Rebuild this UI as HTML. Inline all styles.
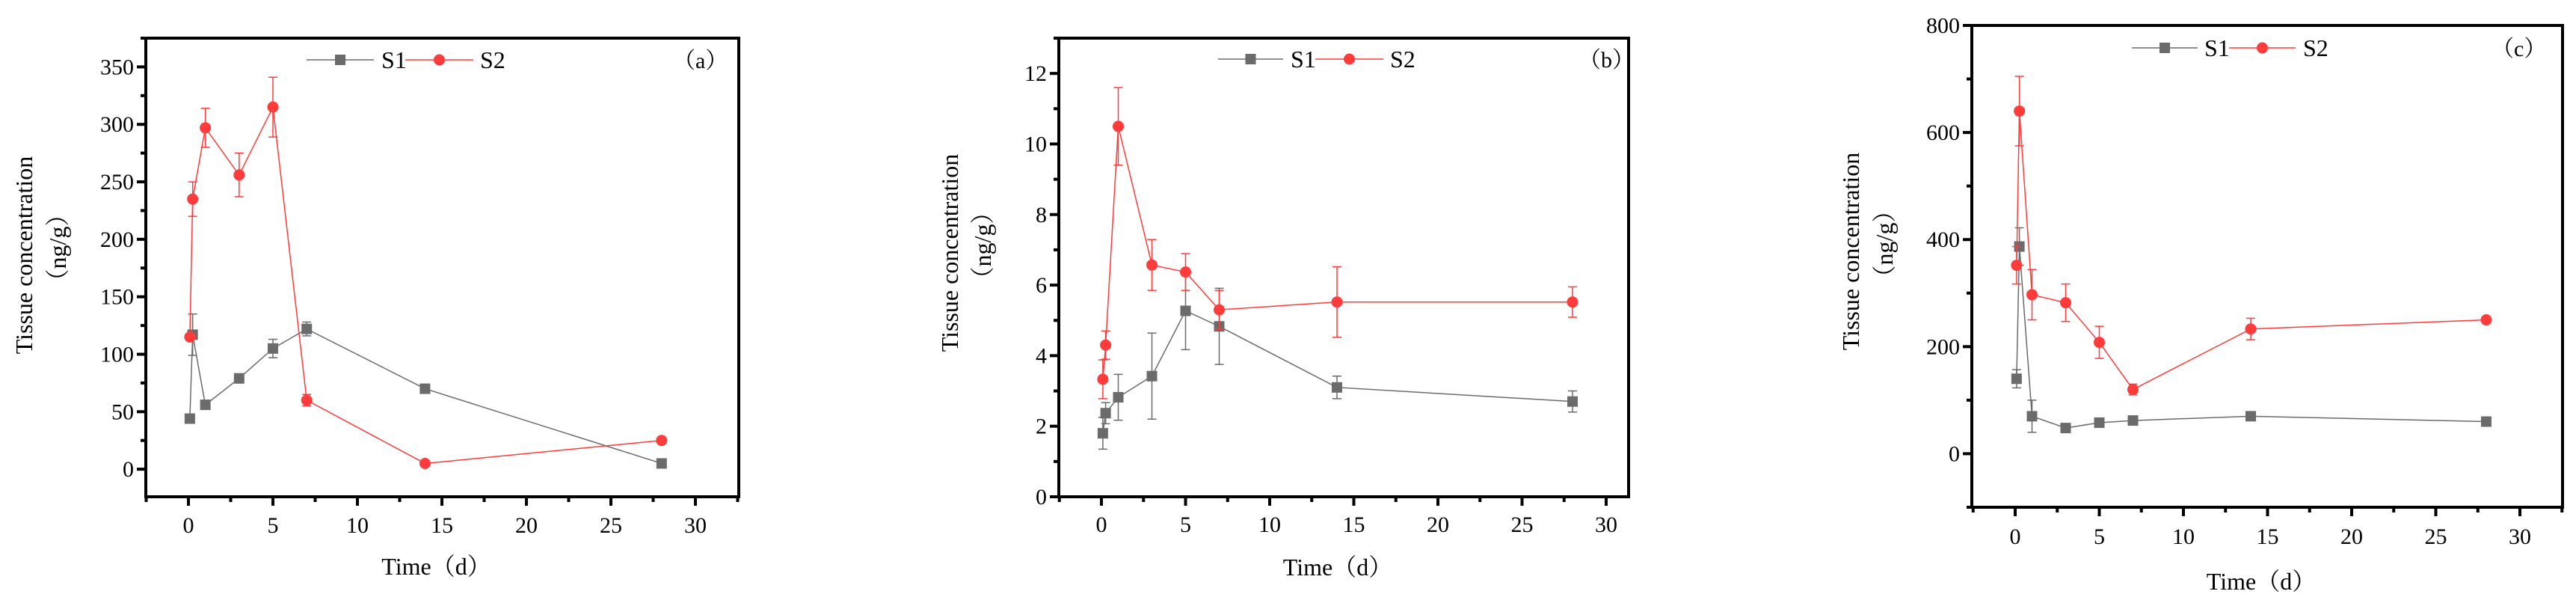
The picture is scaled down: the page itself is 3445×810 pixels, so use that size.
<!DOCTYPE html>
<html><head><meta charset="utf-8"><style>
html,body{margin:0;padding:0;background:#fff;}
svg{display:block;font-family:"Liberation Serif","Noto Serif CJK SC",serif;}
</style></head><body>
<svg id="fig" width="3445" height="810" viewBox="0 0 3445 810" xmlns="http://www.w3.org/2000/svg"></svg>
<script>
const timePoints = [0.083, 0.25, 1, 3, 5, 7, 14, 28];
const xTicks = [0, 5, 10, 15, 20, 25, 30];

const aS1 = [44, 117, 56, 79, 105, 122, 70, 5];
const aS1Err = [0, 18, 0, 4, 8, 6, 0, 0];
const aS2 = [115, 235, 297, 256, 315, 60, 5, 25];
const aS2Err = [0, 15, 17, 19, 26, 5, 0, 0];
const aYTicks = [0, 50, 100, 150, 200, 250, 300, 350];

const bS1 = [1.8, 2.37, 2.82, 3.42, 5.27, 4.83, 3.1, 2.7];
const bS1Err = [0.45, 0.3, 0.65, 1.22, 1.1, 1.08, 0.32, 0.3];
const bS2 = [3.33, 4.3, 10.5, 6.57, 6.37, 5.3, 5.52, 5.52];
const bS2Err = [0.55, 0.4, 1.1, 0.72, 0.52, 0.55, 1.0, 0.43];
const bYTicks = [0, 2, 4, 6, 8, 10, 12];

const cS1 = [140, 387, 70, 48, 58, 62, 70, 60];
const cS1Err = [17, 35, 30, 0, 0, 0, 0, 0];
const cS2 = [352, 640, 297, 282, 208, 120, 233, 250];
const cS2Err = [35, 65, 47, 35, 30, 10, 20, 0];
const cYTicks = [0, 200, 400, 600, 800];

const NS = "http://www.w3.org/2000/svg";
const svg = document.getElementById('fig');
function el(tag, attrs, parent, text){
  const e = document.createElementNS(NS, tag);
  for (const k in attrs) e.setAttribute(k, attrs[k]);
  if (text !== undefined) e.textContent = text;
  (parent || svg).appendChild(e);
  return e;
}

const panels = [
  {id:'a', L:195, R:988, T:51, B:664, x0:252, xs:22.6, ymin:-24, ymax:375, yTicks:aYTicks, minor:25,
   s1:aS1, e1:aS1Err, s2:aS2, e2:aS2Err, tx:32, ngx:77, ty:341, tickY:702, timeY:757,
   leg:{y:80, l1:[410,500], t1:510, l2:[542,633], t2:642, lab:900}},
  {id:'b', L:1416, R:2178, T:51, B:664, x0:1473, xs:22.5, ymin:0, ymax:13, yTicks:bYTicks, minor:1,
   s1:bS1, e1:bS1Err, s2:bS2, e2:bS2Err, tx:1270, ngx:1314, ty:338, tickY:701, timeY:758,
   leg:{y:79, l1:[1629,1716], t1:1726, l2:[1759,1850], t2:1859, lab:2111}},
  {id:'c', L:2637, R:3427, T:34, B:678, x0:2695, xs:22.5, ymin:-100, ymax:800, yTicks:cYTicks, minor:100,
   s1:cS1, e1:cS1Err, s2:cS2, e2:cS2Err, tx:2475, ngx:2520, ty:336, tickY:717, timeY:777,
   leg:{y:64, l1:[2851,2939], t1:2948, l2:[2981,3070], t2:3080, lab:3332}}
];

panels.forEach(p => {
  const g = el('g', {});
  
  
  const X = v => p.x0 + v * p.xs;
  const Y = v => p.B - (v - p.ymin) / (p.ymax - p.ymin) * (p.B - p.T);

  // axes frame
  const frame = el('rect', {x:p.L, y:p.T, width:p.R-p.L, height:p.B-p.T, fill:'none', stroke:'#000', 'stroke-width':4}, g);
  
  

  // y ticks
  const yg = el('g', {}, g);
  
  
  for (let v = Math.ceil(p.ymin / p.minor) * p.minor; v <= p.ymax + 1e-9; v += p.minor) {
    const major = p.yTicks.some(t => Math.abs(t - v) < 1e-9);
    el('line', {x1:p.L, x2:p.L - (major ? 12 : 7), y1:Y(v), y2:Y(v), stroke:'#000', 'stroke-width':4}, yg);
  }
  p.yTicks.forEach(v => {
    const t = el('text', {x:p.L - 16, y:Y(v) + 10, 'text-anchor':'end', 'font-size':30}, yg, String(v));
    
    
  });

  // x ticks
  const xg = el('g', {}, g);
  
  
  for (let v = -2.5; X(v) <= p.R + 1; v += 2.5) {
    if (X(v) < p.L - 1) continue;
    const major = Math.abs(v % 5) < 1e-9;
    el('line', {x1:X(v), x2:X(v), y1:p.B, y2:p.B + (major ? 12 : 7), stroke:'#000', 'stroke-width':4}, xg);
  }
  xTicks.forEach(v => {
    const t = el('text', {x:X(v), y:p.tickY + 10, 'text-anchor':'middle', 'font-size':30}, xg, String(v));
    
    
  });

  // titles
  const xt = el('text', {x:(p.L + p.R) / 2 - 8, y:p.timeY + 11, 'text-anchor':'middle', 'font-size':32}, g, 'Time（d）');
  
  
  const yt = el('text', {x:p.tx + 11, y:p.ty, 'text-anchor':'middle', 'font-size':32, transform:'rotate(-90 ' + (p.tx + 11) + ' ' + p.ty + ')'}, g, 'Tissue concentration');
  
  
  const yu = el('text', {x:p.ngx + 11, y:p.ty - 10, 'text-anchor':'middle', 'font-size':32, transform:'rotate(-90 ' + (p.ngx + 11) + ' ' + (p.ty - 10) + ')'}, g, '（ng/g）');
  
  

  // series
  const series = [
    {v:p.s1, e:p.e1, color:'#6b6b6b', name:'s1', shape:'sq'},
    {v:p.s2, e:p.e2, color:'#ff3b3b', name:'s2', shape:'ci'}
  ];
  series.forEach(s => {
    const sg = el('g', {}, g);
    
    
    const pts = timePoints.map((t, i) => X(t) + ',' + Y(s.v[i])).join(' ');
    const line = el('polyline', {points:pts, fill:'none', stroke:s.color, 'stroke-width':1.5}, sg);
    
    
    timePoints.forEach((t, i) => {
      if (s.e[i] > 0) {
        const eg = el('g', {stroke:s.color, 'stroke-width':1.5}, sg);
        
        
        const cx = X(t), y1 = Y(s.v[i] + s.e[i]), y2 = Y(s.v[i] - s.e[i]);
        el('line', {x1:cx, x2:cx, y1:y1, y2:y2}, eg);
        el('line', {x1:cx - 6, x2:cx + 6, y1:y1, y2:y1}, eg);
        el('line', {x1:cx - 6, x2:cx + 6, y1:y2, y2:y2}, eg);
      }
      let m;
      if (s.shape === 'sq') m = el('rect', {x:X(t) - 7, y:Y(s.v[i]) - 7, width:14, height:14, fill:s.color}, sg);
      else m = el('circle', {cx:X(t), cy:Y(s.v[i]), r:7.5, fill:s.color}, sg);
      
      
    });
  });

  // legend
  const lg = el('g', {}, g);
  
  
  const L = p.leg;
  const e1 = el('g', {}, lg);
  
  
  el('line', {x1:L.l1[0], x2:L.l1[1], y1:L.y, y2:L.y, stroke:'#6b6b6b', 'stroke-width':1.5}, e1);
  el('rect', {x:(L.l1[0] + L.l1[1]) / 2 - 7, y:L.y - 7, width:14, height:14, fill:'#6b6b6b'}, e1);
  el('text', {x:L.t1, y:L.y + 11, 'font-size':32}, e1, 'S1');
  const e2 = el('g', {}, lg);
  
  
  el('line', {x1:L.l2[0], x2:L.l2[1], y1:L.y, y2:L.y, stroke:'#ff3b3b', 'stroke-width':1.5}, e2);
  el('circle', {cx:(L.l2[0] + L.l2[1]) / 2, cy:L.y, r:7.5, fill:'#ff3b3b'}, e2);
  el('text', {x:L.t2, y:L.y + 11, 'font-size':32}, e2, 'S2');
  const pl = el('text', {x:L.lab, y:L.y + 11, 'font-size':30}, g, '（' + p.id + '）');
  
  
});
</script>
</body></html>
